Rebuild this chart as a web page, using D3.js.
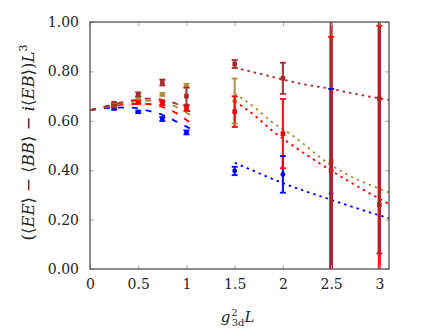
<!DOCTYPE html>
<html>
<head>
<meta charset="utf-8">
<script src="https://cdn.jsdelivr.net/npm/d3@7"></script>
<style>
  body { margin: 0; background: #fff; }
  text { font-family: "DejaVu Serif", serif; }
</style>
</head>
<body>
<svg width="424" height="329"></svg>
<script>
// measured points (x = g^2 L)
var blueX = [0.25, 0.5, 0.75, 1, 1.5, 2, 2.5];
var blueY = [0.650, 0.636, 0.607, 0.553, 0.397, 0.383, 0.306];
var blueE = [0.005, 0.005, 0.008, 0.008, 0.017, 0.074, 0.423];

var goldX = [0.25, 0.5, 0.75, 1, 1.5];
var goldY = [0.665, 0.691, 0.707, 0.742, 0.680];
var goldE = [0.005, 0.006, 0.006, 0.008, 0.091];

var redX = [0.25, 0.5, 0.75, 1, 1.5, 2, 2.5, 3];
var redY = [0.660, 0.675, 0.672, 0.650, 0.637, 0.548, 0.398, 0.260];
var redE = [0.005, 0.006, 0.008, 0.010, 0.062, 0.140, 0.542, 0.725];

var darkX = [0.25, 0.5, 0.75, 1, 1.5, 2, 2.5, 3];
var darkY = [0.670, 0.707, 0.755, 0.700, 0.830, 0.772, 0.434, 0.690];
var darkE = [0.005, 0.008, 0.012, 0.035, 0.016, 0.063, 0.80, 0.627];

// fit curves, small coupling part (dashed)
var blueFitA = [[0, 0.643], [0.2, 0.652], [0.4, 0.654], [0.6, 0.641], [0.75, 0.624], [0.9, 0.596], [1.07, 0.562]];
var redFitA  = [[0, 0.643], [0.2, 0.656], [0.4, 0.668], [0.6, 0.668], [0.75, 0.656], [0.9, 0.630], [1.07, 0.582]];
var goldFitA = [[0, 0.643], [0.2, 0.660], [0.4, 0.675], [0.6, 0.681], [0.75, 0.675], [0.9, 0.655], [1.07, 0.616]];
var darkFitA = [[0, 0.643], [0.2, 0.662], [0.4, 0.680], [0.6, 0.690], [0.75, 0.685], [0.9, 0.668], [1.07, 0.630]];

// fit curves, large coupling part (dotted)
var blueFitB = [[1.5, 0.430], [1.68, 0.400], [1.9, 0.363], [2.5, 0.280], [3.1, 0.205]];
var redFitB  = [[1.5, 0.680], [1.73, 0.614], [1.87, 0.566], [2.07, 0.509], [2.5, 0.398], [3.1, 0.263]];
var goldFitB = [[1.5, 0.710], [1.73, 0.647], [1.87, 0.600], [2.07, 0.549], [2.5, 0.420], [3.1, 0.310]];
var darkFitB = [[1.5, 0.815], [1.85, 0.782], [2.15, 0.753], [2.5, 0.729], [2.8, 0.705], [3.1, 0.685]];

var xTicks = [0, 0.5, 1, 1.5, 2, 2.5, 3];
var yTicks = [0, 0.2, 0.4, 0.6, 0.8, 1.0];

var colBlue = "#0000ff", colRed = "#ff0000", colGold = "#b08d3c", colDark = "#a8282c";

var svg = d3.select("svg");
var pLeft = 90, pRight = 389, pTop = 22, pBottom = 269;

var x = d3.scaleLinear().domain([0, 3.1]).range([pLeft, pRight]);
var y = d3.scaleLinear().domain([0, 1]).range([pBottom, pTop]);

svg.append("clipPath").attr("id", "clip").append("rect")
  .attr("x", pLeft).attr("y", pTop).attr("width", pRight - pLeft).attr("height", pBottom - pTop);

var plot = svg.append("g").attr("clip-path", "url(#clip)");

var line = d3.line().x(function(d){ return x(d[0]); }).y(function(d){ return y(d[1]); })
  .curve(d3.curveMonotoneX);

var fits = [
  [blueFitA, colBlue, "6,8"], [redFitA, colRed, "6,8"], [goldFitA, colGold, "6,8"], [darkFitA, colDark, "6,8"],
  [blueFitB, colBlue, "2.5,4"], [redFitB, colRed, "2.5,4"], [goldFitB, colGold, "2.5,4"], [darkFitB, colDark, "2.5,4"]
];
fits.forEach(function(f){
  plot.append("path").datum(f[0]).attr("d", line)
    .attr("fill", "none").attr("stroke", f[1]).attr("stroke-width", 1.8)
    .attr("stroke-dasharray", f[2]);
});

var series = [
  {xs: blueX, ys: blueY, es: blueE, col: colBlue, shape: "circle"},
  {xs: goldX, ys: goldY, es: goldE, col: colGold, shape: "circle"},
  {xs: redX, ys: redY, es: redE, col: colRed, shape: "square"},
  {xs: darkX, ys: darkY, es: darkE, col: colDark, shape: "square"}
];

function pts(s){
  return s.xs.map(function(v, i){ return {x: v, y: s.ys[i], e: s.es[i]}; });
}

// bars + markers, series by series
series.forEach(function(s){
  var g = plot.append("g").attr("fill", s.col);
  var d = pts(s);
  g.selectAll(null).data(d).enter().append("line")
    .attr("x1", function(p){ return x(p.x); }).attr("x2", function(p){ return x(p.x); })
    .attr("y1", function(p){ return y(p.y - p.e); }).attr("y2", function(p){ return y(p.y + p.e); })
    .attr("stroke", s.col).attr("stroke-width", function(p){ return p.e > 0.3 ? 3.2 : 2.2; })
    .attr("opacity", 0.9);
  if (s.shape === "circle") {
    g.selectAll(null).data(d).enter().append("circle")
      .attr("cx", function(p){ return x(p.x); }).attr("cy", function(p){ return y(p.y); })
      .attr("r", 2.4);
  } else {
    g.selectAll(null).data(d).enter().append("rect")
      .attr("x", function(p){ return x(p.x) - 2.3; }).attr("y", function(p){ return y(p.y) - 2.3; })
      .attr("width", 4.6).attr("height", 4.6);
  }
});

// caps on top
series.forEach(function(s){
  var g = plot.append("g").attr("stroke", s.col);
  var d = pts(s);
  [-1, 1].forEach(function(sg){
    g.selectAll(null).data(d).enter().append("line")
      .attr("x1", function(p){ return x(p.x) - 3; }).attr("x2", function(p){ return x(p.x) + 3; })
      .attr("y1", function(p){ return y(p.y + sg * p.e); }).attr("y2", function(p){ return y(p.y + sg * p.e); })
      .attr("stroke-width", 1.8);
  });
});

// axes, ticks inward on all sides
var tickCol = "#aaaaaa";
svg.append("g").attr("transform", "translate(0," + pBottom + ")")
  .call(d3.axisBottom(x).tickValues(xTicks).tickSize(-4).tickPadding(10)
    .tickFormat(function(d){ return d; }))
  .call(function(g){
    g.select(".domain").remove();
    g.selectAll(".tick line").attr("stroke", tickCol);
    g.selectAll("text").attr("font-size", 14).attr("fill", "#222");
  });
svg.append("g").attr("transform", "translate(0," + pTop + ")")
  .call(d3.axisTop(x).tickValues(xTicks).tickSize(-4).tickFormat(""))
  .call(function(g){ g.select(".domain").remove(); g.selectAll(".tick line").attr("stroke", tickCol); });
svg.append("g").attr("transform", "translate(" + pLeft + ",0)")
  .call(d3.axisLeft(y).tickValues(yTicks).tickSize(-4).tickPadding(11).tickFormat(d3.format(".2f")))
  .call(function(g){
    g.select(".domain").remove();
    g.selectAll(".tick line").attr("stroke", tickCol);
    g.selectAll("text").attr("font-size", 14).attr("fill", "#222");
  });
svg.append("g").attr("transform", "translate(" + pRight + ",0)")
  .call(d3.axisRight(y).tickValues(yTicks).tickSize(-4).tickFormat(""))
  .call(function(g){ g.select(".domain").remove(); g.selectAll(".tick line").attr("stroke", tickCol); });

svg.append("rect").attr("x", pLeft).attr("y", pTop).attr("width", pRight - pLeft).attr("height", pBottom - pTop)
  .attr("fill", "none").attr("stroke", "#444").attr("stroke-width", 1.2);

// axis titles
var xl = svg.append("text").attr("x", (pLeft + pRight) / 2 - 2).attr("y", 322)
  .attr("text-anchor", "middle").attr("font-size", 15).attr("fill", "#222");
xl.append("tspan").attr("font-style", "italic").text("g");
xl.append("tspan").attr("font-size", 10).attr("dy", -6).attr("dx", 1).text("2");
xl.append("tspan").attr("font-size", 10).attr("dy", 10).attr("dx", -6).text("3d");
xl.append("tspan").attr("font-style", "italic").attr("dy", -4).text("L");

var yl = svg.append("text").attr("transform", "translate(34," + ((pTop + pBottom) / 2 - 3) + ") rotate(-90)")
  .attr("text-anchor", "middle").attr("font-size", 16.5).attr("fill", "#222");
yl.append("tspan").text("(⟨");
yl.append("tspan").attr("font-style", "italic").text("EE");
yl.append("tspan").text("⟩ − ⟨");
yl.append("tspan").attr("font-style", "italic").text("BB");
yl.append("tspan").text("⟩ − ");
yl.append("tspan").attr("font-style", "italic").text("i");
yl.append("tspan").text("⟨");
yl.append("tspan").attr("font-style", "italic").text("EB");
yl.append("tspan").text("⟩)");
yl.append("tspan").attr("font-style", "italic").text("L");
yl.append("tspan").attr("font-size", 11).attr("dy", -7).text("3");
</script>
</body>
</html>
